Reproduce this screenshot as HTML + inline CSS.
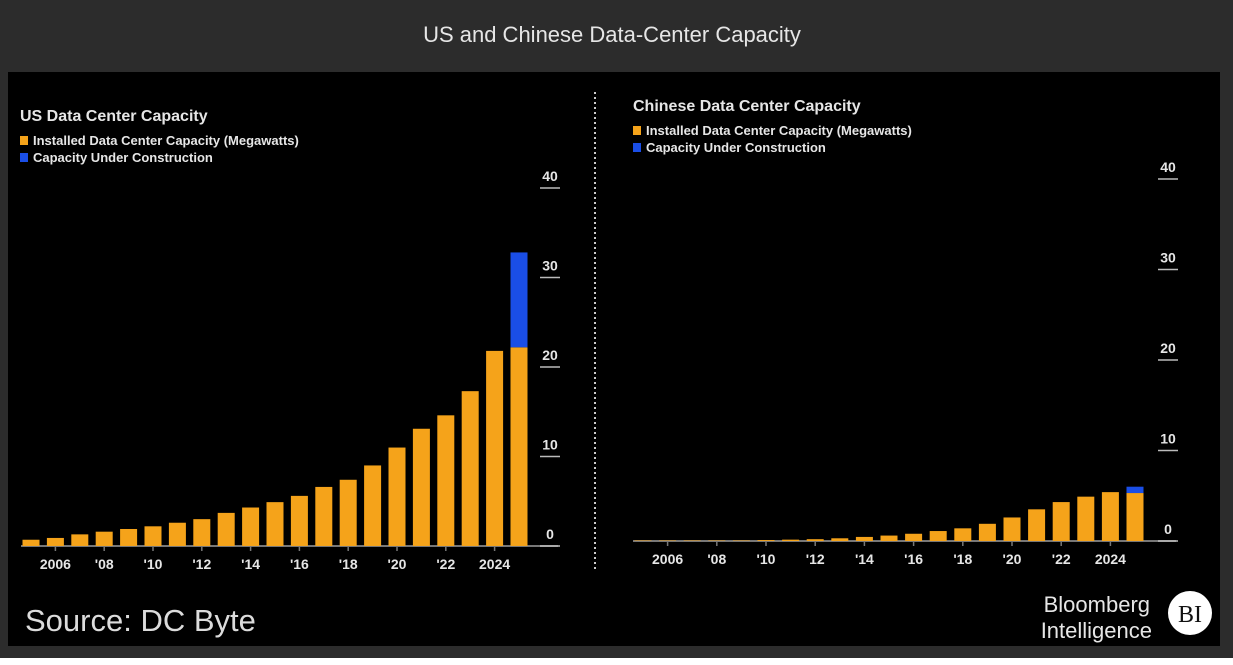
<!DOCTYPE html>
<html><head><meta charset="utf-8"><style>
body{margin:0;width:1233px;height:665px;background:#fff;overflow:hidden;font-family:"Liberation Sans",sans-serif}
#wrap{position:absolute;left:0;top:0;width:1233px;height:658px;background:#2c2c2c}
#panel{position:absolute;left:8px;top:72px;width:1212px;height:574px;background:#000}
</style></head><body>
<div id="wrap"></div>
<div id="panel"></div>
<svg width="1233" height="665" style="position:absolute;left:0;top:0">
<text x="612" y="42" text-anchor="middle" fill="#e6e6e6" font-size="22" font-family="Liberation Sans, sans-serif">US and Chinese Data-Center Capacity</text>
<line x1="595" y1="92" x2="595" y2="572" stroke="#ccc" stroke-width="2" stroke-dasharray="2,3"/>
<g id="g-us"></g>
<g id="g-cn"></g>
<text x="25" y="631" fill="#dcdcdc" font-size="31" font-family="Liberation Sans, sans-serif">Source: DC Byte</text>
<text x="1150" y="612" text-anchor="end" fill="#e6e6e6" font-size="22">Bloomberg</text>
<text x="1152" y="638" text-anchor="end" fill="#e6e6e6" font-size="22">Intelligence</text>
<circle cx="1190" cy="613" r="22" fill="#fff"/>
<text x="1190" y="622" text-anchor="middle" fill="#111" font-size="24" font-family="Liberation Serif, serif">BI</text>
</svg>
<script>
const years=[2005,2006,2007,2008,2009,2010,2011,2012,2013,2014,2015,2016,2017,2018,2019,2020,2021,2022,2023,2024,2025];
const usInstalled=[0.7,0.9,1.3,1.6,1.9,2.2,2.6,3.0,3.7,4.3,4.9,5.6,6.6,7.4,9.0,11.0,13.1,14.6,17.3,21.8,22.2];
const usConstruction=[0,0,0,0,0,0,0,0,0,0,0,0,0,0,0,0,0,0,0,0,10.6];
const cnInstalled=[0.05,0.05,0.05,0.05,0.05,0.1,0.15,0.2,0.3,0.45,0.6,0.8,1.1,1.4,1.9,2.6,3.5,4.3,4.9,5.4,5.3];
const cnConstruction=[0,0,0,0,0,0,0,0,0,0,0,0,0,0,0,0,0,0,0,0,0.7];
const yTicks=[0,10,20,30,40];
const xTickYears=[2006,2008,2010,2012,2014,2016,2018,2020,2022,2024];
const NS="http://www.w3.org/2000/svg";
function mk(g,tag,attrs){const e=document.createElementNS(NS,tag);for(const k in attrs)e.setAttribute(k,attrs[k]);g.appendChild(e);return e;}
function draw(gid,cfg,inst,cons){
  const g=document.getElementById(gid);
  const x=i=>cfg.x0+i*cfg.step;
  const y=v=>cfg.base-v*cfg.pxPerUnit;
  let t=mk(g,'text',{x:cfg.tx,y:cfg.ty,fill:'#e6e6e6','font-size':16,'font-weight':'bold'});t.textContent=cfg.title;
  
  
  const leg=[['#f5a31a','Installed Data Center Capacity (Megawatts)'],['#1a4ee6','Capacity Under Construction']];
  leg.forEach((l,i)=>{
    let r=mk(g,'rect',{x:cfg.tx,y:cfg.ty+15+i*17,width:8,height:9,fill:l[0]});
    
    
    let lt=mk(g,'text',{x:cfg.tx+13,y:cfg.ty+24+i*17,fill:'#e6e6e6','font-size':13,'font-weight':'bold'});lt.textContent=l[1];
    
    
  });
  let bl=mk(g,'line',{x1:x(0)-10,x2:cfg.axX+18,y1:cfg.base,y2:cfg.base,stroke:'#777','stroke-width':2});
  
  
  yTicks.forEach(v=>{
    let l=mk(g,'line',{x1:cfg.axX,x2:cfg.axX+20,y1:y(v),y2:y(v),stroke:'#bbb','stroke-width':1.5});
    
    
    let tt=mk(g,'text',{x:cfg.axX+10,y:y(v)-7,'text-anchor':'middle',fill:'#e6e6e6','font-size':14,'font-weight':'bold'});tt.textContent=v;
    
    
  });
  years.forEach((yr,i)=>{
    let b=mk(g,'rect',{x:x(i)-cfg.bw/2,y:y(inst[i]),width:cfg.bw,height:inst[i]*cfg.pxPerUnit,fill:'#f5a31a'});
    
    
    if(cons[i]>0){
      let c=mk(g,'rect',{x:x(i)-cfg.bw/2,y:y(inst[i]+cons[i]),width:cfg.bw,height:cons[i]*cfg.pxPerUnit,fill:'#1a4ee6'});
      
      
    }
  });
  xTickYears.forEach(yr=>{
    const i=years.indexOf(yr);
    let tk=mk(g,'line',{x1:x(i),x2:x(i),y1:cfg.base,y2:cfg.base+5,stroke:'#777','stroke-width':1.5});
    
    
    const lab=(yr===2006||yr===2024)?String(yr):"'"+String(yr).slice(2);
    let xt=mk(g,'text',{x:x(i),y:cfg.base+23,'text-anchor':'middle',fill:'#e6e6e6','font-size':14,'font-weight':'bold'});xt.textContent=lab;
    
    
  });
}
draw('g-us',{title:'US Data Center Capacity',tx:20,ty:121,x0:31,step:24.4,bw:17,base:546,pxPerUnit:8.95,axX:540},usInstalled,usConstruction);
draw('g-cn',{title:'Chinese Data Center Capacity',tx:633,ty:111,x0:643,step:24.6,bw:17,base:541,pxPerUnit:9.05,axX:1158},cnInstalled,cnConstruction);
</script>
</body></html>
